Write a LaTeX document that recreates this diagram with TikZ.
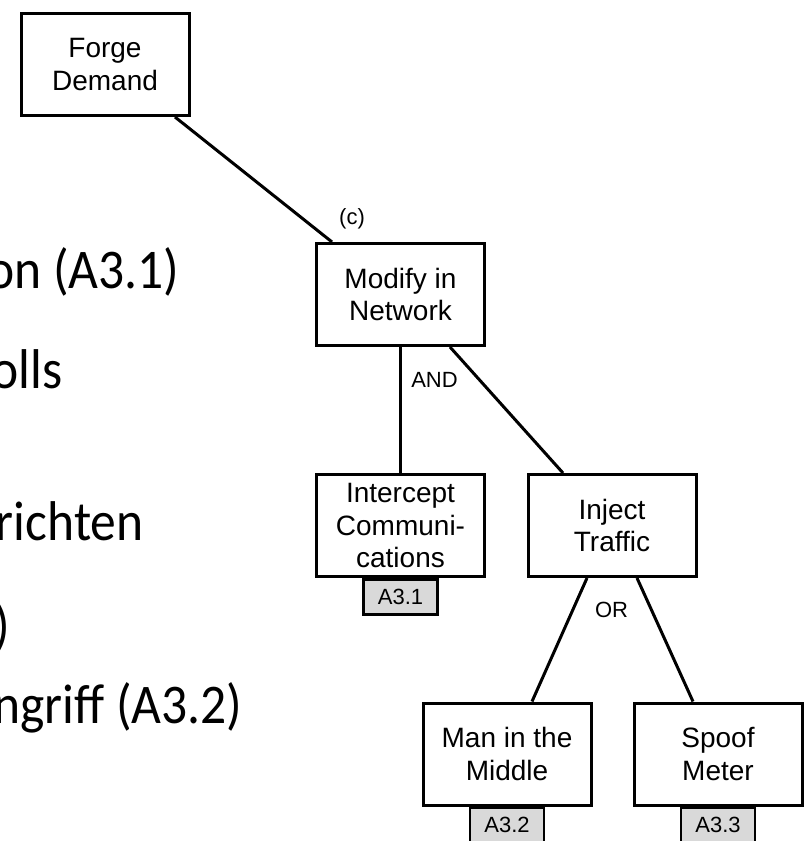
\documentclass[tikz,border=0pt]{standalone}
\usepackage{fontspec}
\setmainfont{Liberation Sans}
\newfontfamily\slidefont[FakeStretch=0.92]{Carlito}
\usetikzlibrary{calc}

\tikzset{
 box/.style={draw, line width=3pt, minimum width=168pt, minimum height=102pt, align=center, inner sep=0pt, font=\fontsize{28}{32.5}\selectfont},
 tag/.style={draw, fill=black!15, line width=2.5pt, minimum width=74pt, minimum height=35pt, inner sep=0pt, anchor=north, font=\fontsize{22}{26}\selectfont},
 gate/.style={inner sep=0pt, font=\fontsize{22}{26}\selectfont},
 slide/.style={anchor=base east, inner sep=0pt, font=\slidefont\fontsize{56}{60}\selectfont}
}

\begin{document}
\begin{tikzpicture}[x=1pt, y=-1pt, line width=3pt]
\useasboundingbox (0,0) rectangle (806,841);
\clip (0,0) rectangle (806,841);
% text of the slide behind the tree
\node[slide] (s1) at (181,288) {on (A3.1)};
\node[slide] (s2) at (64,388) {olls};
\node[slide] (s3) at (145,540) {richten};
\node[slide] (s4) at (12,644) {)};
\node[slide] (s5) at (244,723) {ngriff (A3.2)};
% attack tree
\node[box] (forge) at (105,64.5) {Forge\\Demand};
\node[box] (modify) at (400.5,294.5) {Modify in\\Network};
\node[box] (intercept) at (400.5,525.5) {Intercept\\Communi-\\cations};
\node[box] (inject) at (612,525.5) {Inject\\Traffic};
\node[box] (mitm) at (507,754) {Man in the\\Middle};
\node[box] (spoof) at (718,754) {Spoof\\Meter};
\node[tag] (a31) at (intercept.south) {A3.1};
\node[tag] (a32) at (mitm.south) {A3.2};
\node[tag] (a33) at (spoof.south) {A3.3};
\draw ([xshift=70]forge.south) -- ([xshift=-68.5]modify.north);
\draw (modify.south) -- (intercept.north);
\draw ([xshift=49.5]modify.south) -- ([xshift=-49]inject.north);
\draw ([xshift=-25]inject.south) -- ([xshift=25]mitm.north);
\draw ([xshift=25]inject.south) -- ([xshift=-25]spoof.north);
\node[gate] (c) at (352,219) {(c)};
\node[gate] (and) at (434.5,380) {AND};
\node[gate] (or) at (611.5,609.5) {OR};
\end{tikzpicture}
\end{document}
